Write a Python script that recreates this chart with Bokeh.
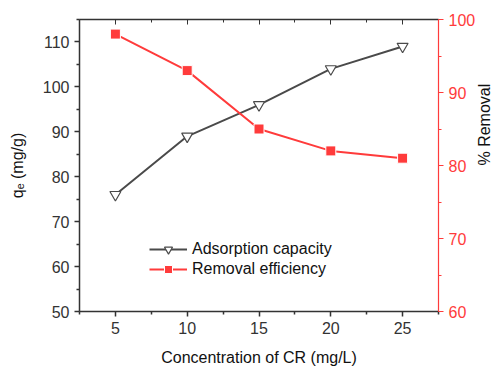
import math
from bokeh.plotting import figure
from bokeh.models import Range1d, LinearAxis, Legend, LegendItem, FixedTicker
from bokeh.embed import file_html
from bokeh.resources import INLINE

conc = [5, 10, 15, 20, 25]
adsorption = [76, 89, 96, 104, 109]
removal = [98, 93, 85, 82, 81]

x_ticks = [5, 10, 15, 20, 25]
x_minor = [2.5, 7.5, 12.5, 17.5, 22.5, 27.5]
left_ticks = [50, 60, 70, 80, 90, 100, 110]
left_minor = [55, 65, 75, 85, 95, 105, 115]
right_ticks = [60, 70, 80, 90, 100]
right_minor = [65, 75, 85, 95]

FONT = "Liberation Sans"
GRAY = "#4a4a4a"
RED = "#ff3b3b"

p = figure(width=494, height=369, output_backend="svg", toolbar_location=None,
           x_range=Range1d(2.5, 27.5), y_range=Range1d(50, 115),
           frame_width=359, frame_height=292,
           min_border_left=79, min_border_right=10, min_border_top=19, min_border_bottom=10)
p.outline_line_color = None
p.grid.visible = False
p.background_fill_color = "white"
p.border_fill_color = "white"

p.extra_y_ranges = {"right": Range1d(60, 100)}

# bottom axis
xa = p.xaxis[0]
xa.ticker = FixedTicker(ticks=x_ticks, minor_ticks=x_minor)
xa.axis_label = "Concentration of CR (mg/L)"
xa.axis_label_standoff = 12
# left axis
ya = p.yaxis[0]
ya.ticker = FixedTicker(ticks=left_ticks, minor_ticks=left_minor)
ya.axis_label = "qₑ (mg/g)"
ya.axis_label_standoff = 14

for ax in (xa, ya):
    ax.axis_line_color = "#333333"
    ax.axis_line_width = 1.5
    ax.major_tick_line_color = "#333333"
    ax.minor_tick_line_color = "#333333"
    ax.major_tick_line_width = 1.5
    ax.minor_tick_line_width = 1.5
    ax.major_tick_out = 5
    ax.major_tick_in = 0
    ax.minor_tick_out = 3
    ax.minor_tick_in = 0
    ax.major_label_text_font = FONT
    ax.major_label_text_font_size = "16px"
    ax.major_label_text_color = "#333333"
    ax.axis_label_text_font = FONT
    ax.axis_label_text_font_size = "16px"
    ax.axis_label_text_font_style = "normal"
    ax.axis_label_text_color = "#111111"

# top mirror axis
top = LinearAxis(ticker=FixedTicker(ticks=x_ticks, minor_ticks=x_minor))
top.axis_line_color = "#333333"
top.axis_line_width = 1.5
top.major_tick_in = 5
top.major_tick_out = 0
top.minor_tick_in = 3
top.minor_tick_out = 0
top.major_tick_line_color = "#333333"
top.minor_tick_line_color = "#333333"
top.major_label_overrides = {t: "" for t in x_ticks}
top.major_label_standoff = 0
p.add_layout(top, "above")

# right axis
ra = LinearAxis(y_range_name="right", ticker=FixedTicker(ticks=right_ticks, minor_ticks=right_minor))
ra.axis_label = "% Removal"
ra.axis_label_orientation = math.pi / 2
ra.axis_label_standoff = 6
ra.axis_line_color = RED
ra.axis_line_width = 1.2
ra.major_tick_line_color = RED
ra.minor_tick_line_color = RED
ra.major_tick_out = 5
ra.major_tick_in = 0
ra.minor_tick_out = 3
ra.minor_tick_in = 0
ra.major_label_text_font = FONT
ra.major_label_text_font_size = "16px"
ra.major_label_text_color = RED
ra.axis_label_text_font = FONT
ra.axis_label_text_font_size = "16px"
ra.axis_label_text_font_style = "normal"
ra.axis_label_text_color = "#111111"
p.add_layout(ra, "right")

l1 = p.line(conc, adsorption, line_color=GRAY, line_width=2)
m1 = p.scatter(conc, adsorption, marker="inverted_triangle", size=11,
               fill_color="white", line_color=GRAY, line_width=1.2)
l2 = p.line(conc, removal, line_color=RED, line_width=2, y_range_name="right")
m2 = p.scatter(conc, removal, marker="square", size=10, fill_color=RED,
               line_color="white", line_width=1, y_range_name="right")

legend = Legend(items=[
    LegendItem(label="Adsorption capacity", renderers=[l1, m1]),
    LegendItem(label="Removal efficiency", renderers=[l2, m2]),
], location=(70, 32))
legend.background_fill_alpha = 0
legend.border_line_color = None
legend.label_text_font = FONT
legend.label_text_font_size = "16px"
legend.label_text_color = "#111111"
legend.glyph_width = 38
legend.glyph_height = 20
legend.label_height = 20
legend.spacing = 0
legend.padding = 4
legend.label_standoff = 5
p.add_layout(legend, "center")

open("out.html", "w").write(file_html(p, INLINE))
